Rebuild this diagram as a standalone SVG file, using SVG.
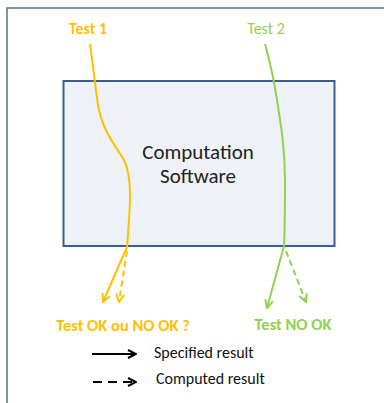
<svg xmlns="http://www.w3.org/2000/svg" width="384" height="403" viewBox="0 0 384 403">
<style>
text{font-family:Carlito,"Liberation Sans","Open Sans",sans-serif}
.y{stroke:#FFC000;fill:none;stroke-width:2}
.g{stroke:#92D050;fill:none;stroke-width:2}
.k{stroke:#000;fill:none;stroke-width:2}
.d{stroke-dasharray:6,4}
</style>
<defs>
<marker id="ay" viewBox="0 0 10 10" refX="9" refY="5" markerWidth="5" markerHeight="5" orient="auto" markerUnits="strokeWidth"><path d="M1,1 L9,5 L1,9" fill="none" stroke="#FFC000" stroke-width="2"/></marker>
<marker id="ag" viewBox="0 0 10 10" refX="9" refY="5" markerWidth="5" markerHeight="5" orient="auto" markerUnits="strokeWidth"><path d="M1,1 L9,5 L1,9" fill="none" stroke="#92D050" stroke-width="2"/></marker>
<marker id="ak" viewBox="0 0 10 10" refX="9" refY="5" markerWidth="5" markerHeight="5" orient="auto" markerUnits="strokeWidth"><path d="M1,1 L9,5 L1,9" fill="none" stroke="#000" stroke-width="2"/></marker>
</defs>
<rect x="0" y="0" width="384" height="403" fill="#fff"/>
<rect x="7" y="8" width="400" height="420" fill="none" stroke="#4F6F9A" stroke-width="1.5"/>
<g id="software">
<rect x="63.5" y="81" width="271" height="165" fill="#EEF2F6" stroke="#3A5F8F" stroke-width="2"/>
<text x="198" y="159" font-size="21" text-anchor="middle" fill="#222">Computation</text>
<text x="198" y="183" font-size="21" text-anchor="middle" fill="#222">Software</text>
</g>
<g id="test1"><text x="88" y="34" font-size="16" font-weight="bold" text-anchor="middle" fill="#FFC000">Test 1</text></g>
<g id="test2"><text x="266" y="34" font-size="16" text-anchor="middle" fill="#92D050">Test 2</text></g>
<g id="result1"><text x="123" y="331" font-size="16.5" font-weight="bold" text-anchor="middle" fill="#FFC000">Test OK ou NO OK ?</text></g>
<g id="result2"><text x="293" y="330" font-size="16.5" font-weight="bold" text-anchor="middle" fill="#92D050">Test NO OK</text></g>
<g id="connectors">
<path class="y" d="M90,44 C93,65 95,85 98,105 C102,130 115,145 124,160 C133,178 130,210 127,247"/>
<path class="y" marker-end="url(#ay)" d="M127,247 L103,302"/>
<path class="y d" marker-end="url(#ay)" d="M127,251 L119,302"/>
<path class="g" d="M265,44 C270,62 274,80 277,100 C281,125 285,150 285,180 C285,205 285,225 284,246"/>
<path class="g" marker-end="url(#ag)" d="M284,246 L267,308"/>
<path class="g d" marker-end="url(#ag)" d="M286,251 L306,302"/>
</g>
<g id="legend">
<line class="k" x1="92" y1="354" x2="136" y2="354" marker-end="url(#ak)"/>
<text x="154" y="358" font-size="16" fill="#111">Specified result</text>
<line class="k" x1="93" y1="382" x2="136" y2="382" stroke-dasharray="9,6" marker-end="url(#ak)"/>
<text x="156" y="384" font-size="16" fill="#111">Computed result</text>
</g>
</svg>
